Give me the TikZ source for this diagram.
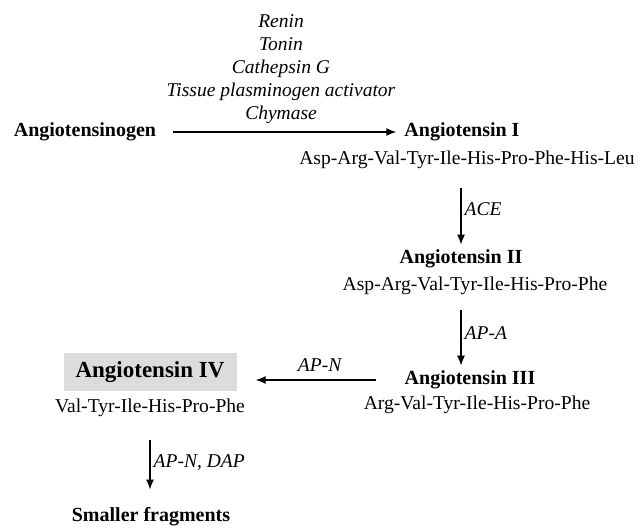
\documentclass[tikz,border=0pt]{standalone}
\usepackage{fontspec}
\setmainfont{Liberation Serif}
\usetikzlibrary{arrows.meta}
\definecolor{boxgray}{RGB}{220,220,220}
\begin{document}
\begin{tikzpicture}[x=1pt,y=-1pt,>={Latex[length=10pt,width=8pt]},
  pep/.style={font=\fontsize{20}{22}\selectfont\bfseries,inner sep=2pt},
  seq/.style={font=\fontsize{19.6}{22}\selectfont,inner sep=2pt},
  enz/.style={font=\fontsize{19.5}{23}\selectfont\itshape,inner sep=3pt},
  conv/.style={->,line width=1.4pt}]
  \useasboundingbox (0,0) rectangle (639,530);
  % first step
  \node[pep] (agen) at (85,132) {Angiotensinogen};
  \node[pep] (a1) at (462,132) {Angiotensin I};
  \node[enz,align=center] (list) at (281,69) {Renin\\Tonin\\Cathepsin G\\Tissue plasminogen activator\\Chymase};
  \draw[conv,shorten <=15pt,shorten >=6pt] (agen) -- (a1);
  \node[seq] (a1seq) at (467,160) {Asp-Arg-Val-Tyr-Ile-His-Pro-Phe-His-Leu};
  % down the right column
  \node[pep] (a2) at (461,259) {Angiotensin II};
  \draw[conv,shorten <=17pt,shorten >=3pt] (a1seq.south -| a2) -- node[enz,right] {ACE} (a2.north);
  \node[seq] (a2seq) at (475,286) {Asp-Arg-Val-Tyr-Ile-His-Pro-Phe};
  \node[pep] (a3) at (470,380) {Angiotensin III};
  \draw[conv,shorten <=13pt,shorten >=3pt] (a2seq.south -| a2) -- node[enz,right] {AP-A} (a3.north -| a2);
  \node[seq] (a3seq) at (477,405) {Arg-Val-Tyr-Ile-His-Pro-Phe};
  % angiotensin IV
  \node[pep,fill=boxgray,font=\fontsize{23}{25}\selectfont\bfseries,minimum width=173,minimum height=38] (a4) at (150,372) {Angiotensin IV};
  \draw[conv,shorten <=27pt,shorten >=19pt] (a3.west) -- node[enz,above=5pt] {AP-N} (a4.east |- a3.west);
  \node[seq] (a4seq) at (150,408) {Val-Tyr-Ile-His-Pro-Phe};
  \node[pep] (frag) at (151,517) {Smaller fragments};
  \draw[conv,shorten <=21pt,shorten >=16pt] (a4seq.south -| a4) -- node[enz,right] {AP-N, DAP} (frag.north -| a4);
\end{tikzpicture}
\end{document}
